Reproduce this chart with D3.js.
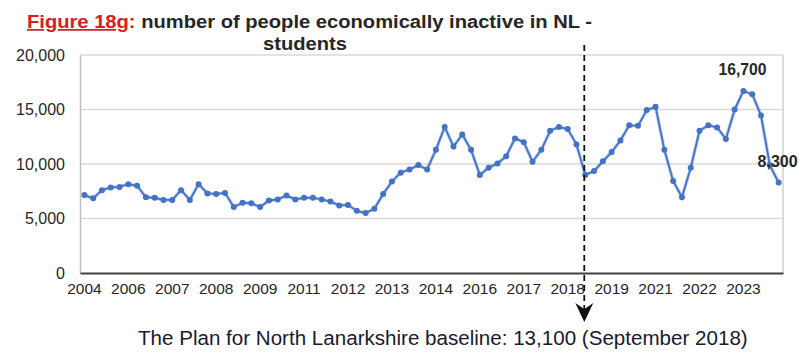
<!DOCTYPE html>
<html>
<head>
<meta charset="utf-8">
<script src="https://cdn.jsdelivr.net/npm/d3@7"></script>
<style>
  html, body { margin: 0; padding: 0; background: #ffffff; }
  svg { display: block; font-family: "Liberation Sans", Arial, sans-serif; }
</style>
</head>
<body>
<svg id="chart" width="799" height="355"></svg>
<script>
// ---- data ----
const values = [
  7150, 6850, 7600, 7850, 7900, 8150, 8000, 6950, 6900, 6700,
  6700, 7600, 6700, 8150, 7300, 7250, 7350, 6050, 6450, 6400,
  6050, 6650, 6750, 7100, 6750, 6900, 6900, 6750, 6550, 6200,
  6250, 5700, 5500, 5900, 7250, 8400, 9200, 9500, 9900, 9500,
  11300, 13400, 11600, 12700, 11300, 9000, 9650, 10050, 10700, 12350,
  12000, 10200, 11300, 13050, 13400, 13200, 11800, 9000, 9350, 10250,
  11100, 12150, 13550, 13500, 14950, 15250, 11300, 8450, 6950, 9650,
  13050, 13550, 13350, 12300, 15000, 16700, 16400, 14450, 9900, 8300
];
const tickLabels = ["2004","2006","2007","2008","2009","2011","2012","2013",
                    "2014","2016","2017","2018","2019","2021","2022","2023"];
const labelEvery = 5;
const yTicks = [0, 5000, 10000, 15000, 20000];
const labelledPoints = [{ index: 75, text: "16,700" }, { index: 79, text: "8,300" }];
const baselineIndex = 57;
const titleRed = "Figure 18g";
const titleRest = "number of people economically inactive in NL -";
const titleLine2 = "students";
const baselineNote = "The Plan for North Lanarkshire baseline: 13,100 (September 2018)";

// ---- layout ----
const svg = d3.select("#chart");
const plot = { left: 80, right: 783, top: 55, bottom: 273 };
const blue = "#4472C4";

const x = d3.scaleBand()
  .domain(d3.range(values.length))
  .range([plot.left, plot.right])
  .paddingInner(0).paddingOuter(0);
const y = d3.scaleLinear().domain([0, 20000]).range([plot.bottom, plot.top]);
const cx = i => x(i) + x.bandwidth() / 2;

// gridlines
svg.append("g").selectAll("line")
  .data(yTicks.filter(d => d > 0))
  .join("line")
  .attr("x1", plot.left).attr("x2", plot.right)
  .attr("y1", d => y(d)).attr("y2", d => y(d))
  .attr("stroke", "#d9d9d9").attr("stroke-width", 1.5);

// right border
svg.append("line")
  .attr("x1", plot.right).attr("x2", plot.right)
  .attr("y1", plot.top).attr("y2", plot.bottom)
  .attr("stroke", "#d0d0d0").attr("stroke-width", 1.5);

// y axis
const yAxis = d3.axisLeft(y).tickValues(yTicks).tickFormat(d3.format(",")).tickSize(0).tickPadding(15);
const gy = svg.append("g").attr("transform", `translate(${plot.left},0)`).call(yAxis);
gy.select(".domain").attr("stroke", "#bfbfbf").attr("stroke-width", 1.5);
gy.selectAll("text").attr("font-size", 16).attr("fill", "#262626")
  .attr("font-family", "'Liberation Sans', Arial, sans-serif");

// x axis
const xAxis = d3.axisBottom(x)
  .tickValues(d3.range(0, values.length, labelEvery))
  .tickFormat((d) => tickLabels[d / labelEvery])
  .tickSize(0).tickPadding(10);
const gx = svg.append("g").attr("transform", `translate(0,${plot.bottom})`).call(xAxis);
gx.select(".domain").attr("stroke", "#404040").attr("stroke-width", 2);
gx.selectAll("text").attr("font-size", 15.5).attr("fill", "#262626")
  .attr("font-family", "'Liberation Sans', Arial, sans-serif");

// line
const line = d3.line().x((d, i) => cx(i)).y(d => y(d));
svg.append("path").datum(values)
  .attr("d", line).attr("fill", "none")
  .attr("stroke", blue).attr("stroke-opacity", 0.35).attr("stroke-width", 3.5);
svg.append("path").datum(values)
  .attr("d", line).attr("fill", "none")
  .attr("stroke", blue).attr("stroke-width", 1.8).attr("stroke-linejoin", "round");
svg.append("g").selectAll("circle").data(values).join("circle")
  .attr("cx", (d, i) => cx(i)).attr("cy", d => y(d)).attr("r", 3)
  .attr("fill", blue);

// data labels
svg.append("g").selectAll("text").data(labelledPoints).join("text")
  .attr("x", d => cx(d.index) - 1).attr("y", d => y(values[d.index]) - 16)
  .attr("text-anchor", "middle").attr("font-size", 16.5).attr("font-weight", "bold")
  .attr("textLength", d => d.text.length > 5 ? 48 : 40)
  .attr("lengthAdjust", "spacingAndGlyphs")
  .attr("fill", "#262626").text(d => d.text);

// baseline dashed arrow
const bx = cx(baselineIndex) - 1;
svg.append("line")
  .attr("x1", bx).attr("x2", bx).attr("y1", 45).attr("y2", 312)
  .attr("stroke", "#111").attr("stroke-width", 1.8).attr("stroke-dasharray", "6,4");
svg.append("path")
  .attr("d", `M${bx - 9},${303} L${bx},${322} L${bx + 9},${303} L${bx},${309} Z`)
  .attr("fill", "#111");

// title
const title = svg.append("text").attr("x", 27).attr("y", 28)
  .attr("font-size", 17.5).attr("font-weight", "bold").attr("fill", "#262626")
  .attr("textLength", 565).attr("lengthAdjust", "spacingAndGlyphs");
title.append("tspan").attr("fill", "#d42020").attr("text-decoration", "underline").text(titleRed);
title.append("tspan").attr("fill", "#d42020").text(":");
title.append("tspan").text(" " + titleRest);

svg.append("text").attr("x", 263).attr("y", 50)
  .attr("font-size", 17.5).attr("font-weight", "bold").attr("fill", "#262626")
  .attr("textLength", 84).attr("lengthAdjust", "spacingAndGlyphs")
  .text(titleLine2);

// baseline note
const note = svg.append("text").attr("x", 138).attr("y", 345)
  .attr("font-size", 15).attr("fill", "#1a1a2e").text(baselineNote);
const nw = note.node().getComputedTextLength();
note.attr("font-size", 15 * 610 / nw);
</script>
</body>
</html>
